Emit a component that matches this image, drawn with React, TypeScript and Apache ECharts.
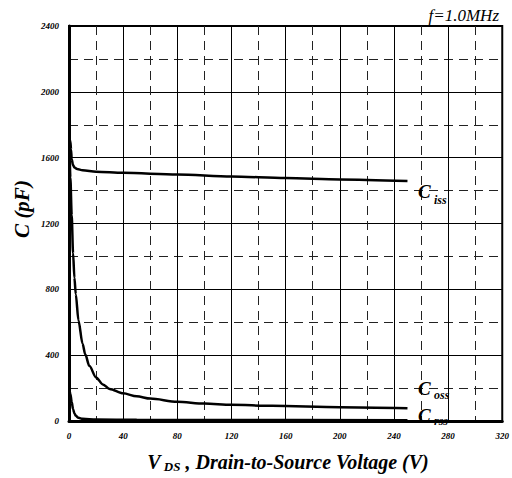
import React, { useEffect, useRef } from "react";
import * as echarts from "echarts";

const cissData: [number, number][] = [
  [0.5, 1710], [1, 1700], [1.5, 1650], [2, 1590], [3, 1555], [4, 1540], [6, 1531],
  [10, 1524], [20, 1515], [40, 1508], [80, 1498], [120, 1486], [160, 1476],
  [200, 1468], [250, 1458],
];
const cossData: [number, number][] = [
  [0.5, 1620], [1, 1480], [2, 1250], [3, 1020], [4, 870], [5, 770], [7, 610],
  [10, 470], [12, 405], [15, 335], [20, 265], [25, 222], [30, 195], [40, 168],
  [50, 150], [60, 136], [80, 117], [100, 106], [120, 98], [150, 92], [200, 84], [250, 78],
];
const crssData: [number, number][] = [
  [0.5, 180], [1, 165], [2, 115], [3, 72], [4, 46], [5, 32], [7, 19], [10, 13],
  [20, 9], [50, 7], [100, 6], [250, 5],
];
const xTicks = [0, 40, 80, 120, 160, 200, 240, 280, 320];
const yTicks = [0, 400, 800, 1200, 1600, 2000, 2400];

const FONT = "'Liberation Serif', 'DejaVu Serif', serif";

export default function App() {
  const ref = useRef<HTMLDivElement>(null);
  useEffect(() => {
    if (!ref.current) return;
    const chart = echarts.init(ref.current, null, { renderer: "svg" });
    const lineSeries = (name: string, data: [number, number][]) => ({
      name,
      type: "line",
      data,
      smooth: 0.3,
      smoothMonotone: "x",
      showSymbol: false,
      lineStyle: { color: "#000", width: 2.5 },
      z: 5,
    });
    const tickLabel = {
      fontFamily: FONT, fontStyle: "italic", fontWeight: "bold", fontSize: 9,
      color: "#000", margin: 10,
      formatter: (v: number) => String(v),
    };
    chart.setOption({
      animation: false,
      backgroundColor: "#fff",
      grid: {
        left: 69, top: 26, right: 7, bottom: 57,
        show: true, borderColor: "#000", borderWidth: 2, backgroundColor: "transparent",
      },
      xAxis: {
        type: "value",
        min: xTicks[0],
        max: xTicks[xTicks.length - 1],
        interval: 40,
        axisLine: { show: true, lineStyle: { color: "#000", width: 3 } },
        axisTick: { show: false },
        axisLabel: tickLabel,
        splitLine: { show: true, lineStyle: { color: "#000", width: 1 } },
        minorTick: { show: false, splitNumber: 2 },
        minorSplitLine: { show: true, lineStyle: { color: "#222", width: 1, type: [9, 6] } },
      },
      yAxis: {
        type: "value",
        min: yTicks[0],
        max: yTicks[yTicks.length - 1],
        interval: 400,
        axisLine: { show: true, lineStyle: { color: "#000", width: 3 } },
        axisTick: { show: false },
        axisLabel: tickLabel,
        splitLine: { show: true, lineStyle: { color: "#000", width: 1 } },
        minorTick: { show: false, splitNumber: 2 },
        minorSplitLine: { show: true, lineStyle: { color: "#222", width: 1, type: [9, 6] } },
      },
      series: [
        lineSeries("Ciss", cissData),
        lineSeries("Coss", cossData),
        lineSeries("Crss", crssData),
      ],
      graphic: [
        {
          type: "text", x: 499, y: 15, z: 100,
          style: {
            text: "f=1.0MHz", fontFamily: FONT, fontStyle: "italic", fontSize: 17,
            fill: "#000", align: "right", verticalAlign: "middle",
          },
        },
        {
          type: "text", x: 21.5, y: 209, rotation: Math.PI / 2, z: 100,
          style: {
            text: "C (pF)", fontFamily: FONT, fontStyle: "italic", fontWeight: "bold",
            fontSize: 21, fill: "#000", align: "center", verticalAlign: "middle",
          },
        },
        {
          type: "text", x: 288, y: 462, z: 100,
          style: {
            text: "{v|V}{s| DS}{r| , Drain-to-Source Voltage (V)}",
            fontFamily: FONT, fontStyle: "italic", fontWeight: "bold", fill: "#000",
            align: "center", verticalAlign: "middle",
            rich: {
              v: { fontFamily: FONT, fontStyle: "italic", fontWeight: "bold", fontSize: 20, fill: "#000" },
              s: { fontFamily: FONT, fontStyle: "italic", fontWeight: "bold", fontSize: 13, fill: "#000", padding: [9, 0, 0, 0] },
              r: { fontFamily: FONT, fontStyle: "italic", fontWeight: "bold", fontSize: 20, fill: "#000" },
            },
          },
        },
        ...[
          { c: 191.5, s: 200, t: "iss" },
          { c: 388.5, s: 395, t: "oss" },
          { c: 415.5, s: 421, t: "rss" },
        ].flatMap((l) => [
          {
            type: "text", x: 418, y: l.c, z: 100,
            style: {
              text: "C", fontFamily: FONT, fontStyle: "italic", fontWeight: "bold",
              fontSize: 19, fill: "#000", align: "left", verticalAlign: "middle",
            },
          },
          {
            type: "text", x: 434, y: l.s, z: 100,
            style: {
              text: l.t, fontFamily: FONT, fontStyle: "italic", fontWeight: "bold",
              fontSize: 12, fill: "#000", align: "left", verticalAlign: "middle",
            },
          },
        ]),
      ],
    });
    return () => chart.dispose();
  }, []);
  return (
    <div
      ref={ref}
      style={{ position: "fixed", left: 0, top: 0, width: 512, height: 478 }}
    />
  );
}
